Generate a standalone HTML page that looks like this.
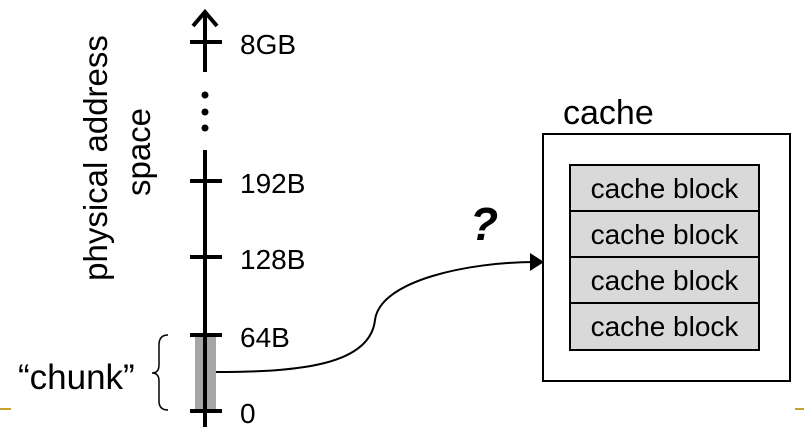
<!DOCTYPE html>
<html><head><style>
body{margin:0;background:#fff;}
svg{display:block;}
text{font-family:"Liberation Sans",sans-serif;fill:#000;}
</style></head><body>
<svg width="804" height="432" viewBox="0 0 804 432">
<line x1="0" y1="409" x2="11" y2="409" stroke="#c8a030" stroke-width="2"/>
<line x1="795" y1="409" x2="804" y2="409" stroke="#c8a030" stroke-width="2"/>
<rect x="195" y="336" width="21" height="74" fill="#a6a6a6"/>
<g stroke="#000" stroke-width="4" fill="none">
<line x1="205" y1="12" x2="205" y2="72"/>
<polyline points="193,26 205,12 217,26"/>
<line x1="205" y1="150" x2="205" y2="427"/>
<line x1="190" y1="42" x2="222" y2="42"/>
<line x1="190" y1="181" x2="222" y2="181"/>
<line x1="190" y1="257" x2="222" y2="257"/>
<line x1="190" y1="335" x2="222" y2="335"/>
<line x1="190" y1="411" x2="222" y2="411"/>
</g>
<circle cx="205" cy="95" r="3.5"/><circle cx="205" cy="112" r="3.5"/><circle cx="205" cy="128" r="3.5"/>
<text x="240" y="54" font-size="28">8GB</text>
<text x="240" y="193" font-size="28">192B</text>
<text x="240" y="269" font-size="28">128B</text>
<text x="240" y="347" font-size="28">64B</text>
<text x="240" y="423" font-size="28">0</text>
<text transform="translate(107,158) rotate(-90)" font-size="33" text-anchor="middle">physical address</text>
<text transform="translate(150,152) rotate(-90)" font-size="33" text-anchor="middle">space</text>
<text x="18" y="389" font-size="35">“chunk”</text>
<path d="M168,335 Q159,335 159,345 L159,365 Q159,373 152,373 Q159,373 159,381 L159,401 Q159,410 168,410" fill="none" stroke="#000" stroke-width="1.5"/>
<path d="M216,372 C300,372 370,365 375,320 C380,280 470,262 535,262" fill="none" stroke="#000" stroke-width="2"/>
<polygon points="530,253 544,262 530,271" fill="#000"/>
<text x="470" y="240" font-size="46" font-weight="bold" font-style="italic">?</text>
<rect x="543" y="134" width="247" height="247" fill="#fff" stroke="#000" stroke-width="2"/>
<text x="563" y="124" font-size="34">cache</text>
<g stroke="#000" stroke-width="2" fill="#d9d9d9">
<rect x="570" y="165" width="189" height="46"/>
<rect x="570" y="211" width="189" height="46"/>
<rect x="570" y="257" width="189" height="46"/>
<rect x="570" y="303" width="189" height="47"/>
</g>
<g font-size="28" text-anchor="middle">
<text x="664.5" y="198">cache block</text>
<text x="664.5" y="244">cache block</text>
<text x="664.5" y="290">cache block</text>
<text x="664.5" y="336">cache block</text>
</g>
</svg>
</body></html>
